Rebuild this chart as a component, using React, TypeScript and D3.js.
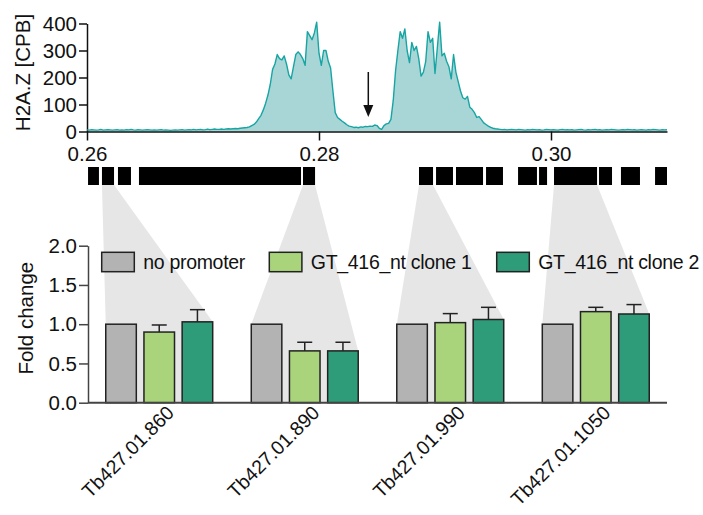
import React, { useEffect, useRef } from 'react';
import * as d3 from 'd3';

// H2A.Z ChIP signal, bins of 0.0002 Mb starting at 0.26 Mb
const binStart = 0.26;
const binSize = 0.0002;
const h2azSignal = [
  6, 5, 7, 6, 5, 6, 8, 5, 6, 7, 6, 5, 6, 7, 5, 6, 5, 7, 6, 8,
  6, 5, 7, 6, 5, 6, 7, 6, 5, 6, 5, 6, 7, 5, 6, 5, 4, 5, 6, 5,
  6, 7, 5, 6, 7, 6, 8, 6, 7, 8, 6, 7, 9, 7, 8, 9, 8, 8, 9, 8,
  9, 10, 9, 10, 11, 10, 12, 13, 14, 15, 17, 22, 26, 35, 48, 60, 80, 105, 135, 175,
  230, 250, 285, 270, 265, 280, 250, 210, 195, 240, 285, 295, 285, 270, 245, 370, 355, 340, 365, 405,
  290, 245, 300, 300, 260, 235, 150, 70, 52, 45, 38, 32, 25, 20, 18, 15, 16, 14, 17, 16,
  19, 18, 20, 19, 24, 22, 12, 8, 22, 28, 30, 45, 115, 225, 300, 370, 345, 380, 300, 255,
  330, 300, 315, 270, 205, 220, 260, 370, 330, 345, 215, 310, 405, 280, 290, 260, 240, 195, 285, 220,
  185, 150, 125, 120, 130, 90, 82, 70, 52, 55, 44, 32, 26, 20, 15, 12, 10, 9, 8, 7,
  8, 6, 7, 8, 7, 6, 8, 7, 6, 5, 7, 6, 8, 7, 6, 7, 5, 6, 8, 7,
  6, 7, 6, 5, 7, 8, 6, 7, 6, 7, 5, 6, 7, 8, 6, 5, 7, 6, 7, 8,
  6, 7, 5, 6, 7, 6, 8, 7, 6, 5, 6, 7, 6, 8, 7, 6, 7, 5, 6, 7,
  6, 5, 7, 6, 8, 7, 6, 5, 7, 6, 7
];
const topTicksX = [0.26, 0.28, 0.30];
const topTicksY = [0, 100, 200, 300, 400];
const arrowPos = 0.28425;

// gene models (Mb)
const geneStarts = [0.26009, 0.26129, 0.26267, 0.26448, 0.27862, 0.28862, 0.29009, 0.29181, 0.29440, 0.29716, 0.29897, 0.30026, 0.30414, 0.30603, 0.30897];
const geneEnds = [0.26103, 0.26233, 0.26379, 0.27845, 0.27966, 0.28983, 0.29155, 0.29414, 0.29586, 0.29879, 0.29966, 0.30397, 0.30526, 0.30767, 0.31];

// qPCR fold change
const genes = ['Tb427.01.860', 'Tb427.01.890', 'Tb427.01.990', 'Tb427.01.1050'];
const geneLink = [1, 4, 5, 11];
const seriesNames = ['no promoter', 'GT_416_nt clone 1', 'GT_416_nt clone 2'];
const seriesColors = ['#b3b3b3', '#a9d47b', '#2e9b79'];
const noPromoter = [1.0, 1.0, 1.0, 1.0];
const clone1 = [0.90, 0.66, 1.02, 1.16];
const clone1Err = [0.09, 0.11, 0.115, 0.055];
const clone2 = [1.03, 0.66, 1.06, 1.13];
const clone2Err = [0.155, 0.11, 0.155, 0.12];
const foldTicks = [0, 0.5, 1.0, 1.5, 2.0];

const FONT = '"Liberation Sans", Arial, sans-serif';

const App = () => {
  const svgRef = useRef<SVGSVGElement>(null);
  const width = 703;
  const height = 515;

  useEffect(() => {
    const svg = d3.select(svgRef.current);
    svg.selectAll('*').remove();

    // ---------- top: H2A.Z profile ----------
    const xTop = d3.scaleLinear().domain([0.26, 0.31]).range([87, 667]);
    const yTop = d3.scaleLinear().domain([0, 400]).range([131.5, 23.5]);

    const area = d3.area<number>()
      .x((d, i) => xTop(binStart + i * binSize))
      .y0(yTop(0))
      .y1(d => yTop(d));
    const line = d3.line<number>()
      .x((d, i) => xTop(binStart + i * binSize))
      .y(d => yTop(d));

    svg.append('path').datum(h2azSignal)
      .attr('d', area)
      .attr('fill', '#a8d5d5');

    const yAxisTop = svg.append('g')
      .attr('transform', `translate(${xTop(0.26)},0)`)
      .call(d3.axisLeft(yTop).tickValues(topTicksY).tickSize(8).tickSizeOuter(0).tickPadding(2));
    const xAxisTop = svg.append('g')
      .attr('transform', `translate(0,${yTop(0)})`)
      .call(d3.axisBottom(xTop).tickValues(topTicksX).tickFormat(d3.format('.2f')).tickSize(9).tickSizeOuter(0).tickPadding(6));

    svg.append('path').datum(h2azSignal)
      .attr('d', line)
      .attr('fill', 'none')
      .attr('stroke', '#17a5a3')
      .attr('stroke-width', 1.4)
      .attr('stroke-linejoin', 'round');

    [yAxisTop, xAxisTop].forEach(ax => {
      ax.selectAll('path, line').attr('stroke', '#111').attr('stroke-width', 1.5);
      ax.selectAll('text').attr('font-size', 20.5).attr('font-family', FONT).attr('fill', '#111');
    });
    xAxisTop.select('.domain').raise();

    svg.append('text')
      .attr('transform', `translate(30,${(yTop(0) + yTop(400)) / 2 - 5}) rotate(-90)`)
      .attr('text-anchor', 'middle')
      .attr('font-size', 20.5)
      .attr('font-family', FONT)
      .attr('fill', '#111')
      .text('H2A.Z [CPB]');

    // arrow
    const ax0 = xTop(arrowPos);
    svg.append('line')
      .attr('x1', ax0).attr('x2', ax0)
      .attr('y1', 72).attr('y2', 107)
      .attr('stroke', '#111').attr('stroke-width', 1.5);
    svg.append('path')
      .attr('d', `M${ax0 - 5},105 L${ax0 + 5},105 L${ax0},117 Z`)
      .attr('fill', '#111');

    // ---------- gene track ----------
    const geneTop = 167;
    const geneBottom = 185;
    svg.append('g').selectAll('rect')
      .data(geneStarts)
      .enter()
      .append('rect')
      .attr('x', d => xTop(d))
      .attr('y', geneTop)
      .attr('width', (d, i) => xTop(geneEnds[i]) - xTop(d))
      .attr('height', geneBottom - geneTop)
      .attr('fill', '#000');

    // ---------- bottom: fold change ----------
    const yBar = d3.scaleLinear().domain([0, 2]).range([402.7, 245.7]);
    const xGroup = d3.scaleBand().domain(genes).range([88, 667]).paddingInner(0.265).paddingOuter(0.122);
    const xSeries = d3.scaleBand().domain(seriesNames).range([0, xGroup.bandwidth()]).paddingInner(0.2);

    // wedges linking gene to its bar group
    svg.append('g').selectAll('path')
      .data(genes)
      .enter()
      .append('path')
      .attr('d', (g, i) => {
        const gi = geneLink[i];
        const left = xGroup(g)!;
        const right = left + xGroup.bandwidth();
        const pts: [number, number][] = [
          [xTop(geneStarts[gi]), geneBottom],
          [xTop(geneEnds[gi]), geneBottom],
          [right, yBar(clone2[i])],
          [right, yBar(0)],
          [left, yBar(0)],
          [left, yBar(noPromoter[i])],
        ];
        return d3.line()(pts) + 'Z';
      })
      .attr('fill', '#e6e6e6');

    const rows = genes.map((g, i) => [
      { g, s: seriesNames[0], v: noPromoter[i], e: 0, c: seriesColors[0] },
      { g, s: seriesNames[1], v: clone1[i], e: clone1Err[i], c: seriesColors[1] },
      { g, s: seriesNames[2], v: clone2[i], e: clone2Err[i], c: seriesColors[2] },
    ]).flat();

    const barG = svg.append('g');
    // error bars
    rows.filter(d => d.e > 0).forEach(d => {
      const cx = xGroup(d.g)! + xSeries(d.s)! + xSeries.bandwidth() / 2;
      barG.append('line')
        .attr('x1', cx).attr('x2', cx)
        .attr('y1', yBar(d.v)).attr('y2', yBar(d.v + d.e))
        .attr('stroke', '#222').attr('stroke-width', 1.5);
      barG.append('line')
        .attr('x1', cx - 7.5).attr('x2', cx + 7.5)
        .attr('y1', yBar(d.v + d.e)).attr('y2', yBar(d.v + d.e))
        .attr('stroke', '#222').attr('stroke-width', 1.5);
    });
    barG.selectAll('rect')
      .data(rows)
      .enter()
      .append('rect')
      .attr('x', d => xGroup(d.g)! + xSeries(d.s)!)
      .attr('y', d => yBar(d.v))
      .attr('width', xSeries.bandwidth())
      .attr('height', d => yBar(0) - yBar(d.v))
      .attr('fill', d => d.c)
      .attr('stroke', '#222')
      .attr('stroke-width', 1.5);

    const yAxisBar = svg.append('g')
      .attr('transform', 'translate(88,0)')
      .call(d3.axisLeft(yBar).tickValues(foldTicks).tickFormat(d3.format('.1f')).tickSize(9).tickSizeOuter(0).tickPadding(2));
    yAxisBar.selectAll('path, line').attr('stroke', '#444').attr('stroke-width', 1.5);
    yAxisBar.selectAll('text').attr('font-size', 20.5).attr('font-family', FONT).attr('fill', '#111');

    svg.append('line')
      .attr('x1', 88).attr('x2', 667)
      .attr('y1', yBar(0)).attr('y2', yBar(0))
      .attr('stroke', '#444').attr('stroke-width', 2);

    svg.append('text')
      .attr('transform', `translate(33,${yBar(1) - 6}) rotate(-90)`)
      .attr('text-anchor', 'middle')
      .attr('font-size', 20.5)
      .attr('font-family', FONT)
      .attr('fill', '#111')
      .text('Fold change');

    // gene labels
    svg.append('g').selectAll('text')
      .data(genes)
      .enter()
      .append('text')
      .attr('transform', g => `translate(${xGroup(g)! + xGroup.bandwidth() / 2 + 16},414) rotate(-45)`)
      .attr('text-anchor', 'end')
      .attr('font-size', 19.5)
      .attr('font-family', FONT)
      .attr('fill', '#111')
      .text(g => g);

    // legend
    const legendX = [101.7, 269.3, 496.7];
    const legend = svg.append('g');
    seriesNames.forEach((s, i) => {
      legend.append('rect')
        .attr('x', legendX[i]).attr('y', 252.3)
        .attr('width', 32.6).attr('height', 19.4)
        .attr('fill', seriesColors[i])
        .attr('stroke', '#222').attr('stroke-width', 1.5);
      legend.append('text')
        .attr('x', legendX[i] + 41.5).attr('y', 269)
        .attr('font-size', 19.5)
        .attr('font-family', FONT)
        .attr('letter-spacing', -0.3)
        .attr('fill', '#111')
        .text(s);
    });
  }, []);

  return (
    <svg ref={svgRef} width={width} height={height}
      style={{ position: 'absolute', left: 0, top: 0, background: '#fff' }} />
  );
};

export default App;
